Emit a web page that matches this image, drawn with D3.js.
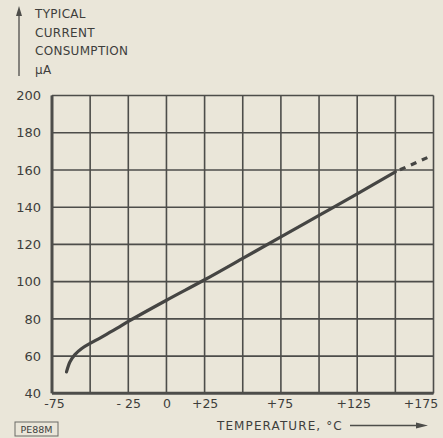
<!DOCTYPE html>
<html><head><meta charset="utf-8">
<script src="https://cdn.jsdelivr.net/npm/d3@7"></script>
<style>
html,body{margin:0;padding:0;background:#eae6d9;}
svg{display:block;}
text{font-family:"DejaVu Sans",sans-serif;fill:#3e3e3c;}
</style></head><body>
<script>
const xTicks = [-75, -25, 0, 25, 75, 125, 175];
const xTickLabels = ["-75", "- 25", "0", "+25", "+75", "+125", "+175"];
const xGrid = [-75, -50, -25, 0, 25, 50, 75, 100, 125, 150, 175];
const yTicks = [40, 60, 80, 100, 120, 140, 160, 180, 200];
const solidTemp = [-65.5, -63.2, -60, -55.5, -50, -43.6, -37.2, -30.8, -25, 0, 25, 50, 75, 100, 125, 150];
const solidCurrent = [51.5, 57, 60.8, 64.1, 66.8, 69.7, 72.7, 75.7, 78.6, 90, 101, 112.5, 124, 135.6, 147.2, 159];
const dashTemp = [150, 172];
const dashCurrent = [159, 167];
const yTitle = ["TYPICAL", "CURRENT", "CONSUMPTION", "μA"];
const xTitle = "TEMPERATURE, °C";

const W = 443, H = 438;
const svg = d3.select("body").append("svg").attr("width", W).attr("height", H);
const x = d3.scaleLinear().domain([-75, 175]).range([52, 433.5]);
const y = d3.scaleLinear().domain([40, 200]).range([393.3, 95.5]);
const ink = "#4d4d4a";

// grid
svg.append("g").selectAll("line.v").data(xGrid).join("line")
  .attr("x1", d => x(d)).attr("x2", d => x(d)).attr("y1", y(200)).attr("y2", y(40))
  .attr("stroke", ink).attr("stroke-width", 1.6);
svg.append("g").selectAll("line.h").data(yTicks).join("line")
  .attr("x1", x(-75)).attr("x2", x(175)).attr("y1", d => y(d)).attr("y2", d => y(d))
  .attr("stroke", ink).attr("stroke-width", 1.6);
// thick frame left and bottom
svg.append("line").attr("x1", x(-75)).attr("x2", x(-75)).attr("y1", y(200)).attr("y2", y(40))
  .attr("stroke", ink).attr("stroke-width", 3);
svg.append("line").attr("x1", x(-75)).attr("x2", x(175)).attr("y1", y(40)).attr("y2", y(40))
  .attr("stroke", ink).attr("stroke-width", 3);

// axes labels via d3 axes
const yAxis = svg.append("g").attr("transform", `translate(${x(-75)},0)`)
  .call(d3.axisLeft(y).tickValues(yTicks).tickSize(0).tickPadding(11));
yAxis.select(".domain").remove();
yAxis.selectAll("text").attr("font-size", 13).attr("font-family", "DejaVu Sans").attr("fill", "#3e3e3c");

const xAxis = svg.append("g").attr("transform", `translate(0,${y(40)})`)
  .call(d3.axisBottom(x).tickValues(xTicks).tickSize(0).tickPadding(6)
    .tickFormat((d, i) => xTickLabels[i]));
xAxis.select(".domain").remove();
xAxis.selectAll("text").attr("font-size", 12.5).attr("font-family", "Liberation Sans").attr("fill", "#3e3e3c");
const xShift = {"-75": 2, "75": -1.5, "125": -4, "175": -13};
xAxis.selectAll("text").attr("dx", d => xShift[d] || 0);

// curve
const line = d3.line().x(d => x(d[0])).y(d => y(d[1])).curve(d3.curveCatmullRom.alpha(0.5));
svg.append("path").datum(solidTemp.map((t, i) => [t, solidCurrent[i]]))
  .attr("d", line).attr("fill", "none").attr("stroke", "#454543").attr("stroke-width", 3.2)
  .attr("stroke-linecap", "round");
svg.append("path").datum(dashTemp.map((t, i) => [t, dashCurrent[i]]))
  .attr("d", d3.line().x(d => x(d[0])).y(d => y(d[1])))
  .attr("fill", "none").attr("stroke", "#454543").attr("stroke-width", 3.2)
  .attr("stroke-dasharray", "6,6").attr("stroke-dashoffset", -5);

// y title
svg.append("g").selectAll("text").data(yTitle).join("text")
  .attr("x", 35).attr("y", (d, i) => 18 + i * 18.5)
  .attr("font-size", 12).attr("letter-spacing", 0.3).text(d => d);
svg.append("line").attr("x1", 19).attr("x2", 19).attr("y1", 14).attr("y2", 76)
  .attr("stroke", ink).attr("stroke-width", 1.3);
svg.append("path").attr("d", "M16,16 L19,6 L22,16 Z").attr("fill", ink);

// x title
svg.append("text").attr("x", 217).attr("y", 430).attr("font-size", 12)
  .attr("letter-spacing", 1.1).text(xTitle);
svg.append("line").attr("x1", 350).attr("x2", 420).attr("y1", 425.5).attr("y2", 425.5)
  .attr("stroke", ink).attr("stroke-width", 1.3);
svg.append("path").attr("d", "M416,422.5 L428,425.5 L416,428.5 Z").attr("fill", ink);

// PE88M box
svg.append("rect").attr("x", 15).attr("y", 422).attr("width", 43).attr("height", 14)
  .attr("fill", "none").attr("stroke", "#6a6a66").attr("stroke-width", 1);
svg.append("text").attr("x", 36.5).attr("y", 433).attr("text-anchor", "middle")
  .attr("font-size", 9.5).text("PE88M");
</script>
</body></html>
